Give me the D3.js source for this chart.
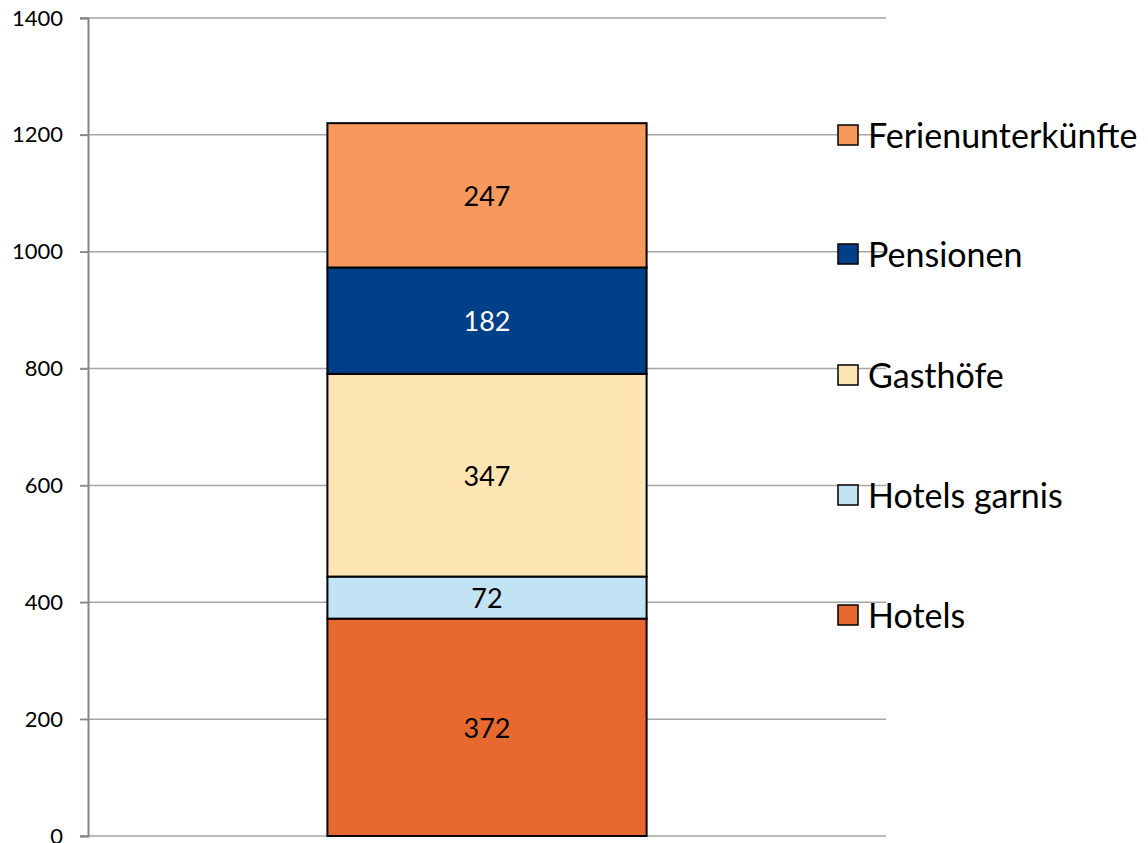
<!DOCTYPE html>
<html>
<head>
<meta charset="utf-8">
<script src="https://cdn.jsdelivr.net/npm/d3@7"></script>
<style>
  body { margin: 0; background: #fff; }
  text { font-family: Lato, "Open Sans", sans-serif; }
</style>
</head>
<body>
<div id="container"></div>
<script>
// data, bottom to top
let categories = ["Hotels", "Hotels garnis", "Gasthöfe", "Pensionen", "Ferienunterkünfte"];
let values = [372, 72, 347, 182, 247];
let colors = ["#E8692F", "#C2E3F4", "#FDE6B4", "#004088", "#F7985C"];
let labelColors = ["#000", "#000", "#000", "#fff", "#000"];
let yTicks = [0, 200, 400, 600, 800, 1000, 1200, 1400];

let width = 1148, height = 843;

let svg = d3.select("#container")
  .append("svg")
    .attr("width", width)
    .attr("height", height)
;

let x = d3.scaleBand().domain(["all"]).range([88, 886]).paddingInner(0).paddingOuter(0.75);
let y = d3.scaleLinear().domain([0, 1400]).range([836, 18]);

// gridlines
svg.append("g")
  .selectAll("line")
  .data(yTicks)
  .enter()
  .append("line")
    .attr("x1", 80)
    .attr("x2", 886)
    .attr("y1", d => y(d))
    .attr("y2", d => y(d))
    .attr("stroke", "#A6A6A6")
    .attr("stroke-width", 1.5)
;

// y axis
let yAxis = svg.append("g")
  .attr("transform", "translate(88,0)")
  .call(d3.axisLeft(y).tickValues(yTicks).tickFormat(d3.format("d")).tickSize(8).tickPadding(17));
yAxis.select(".domain").attr("stroke", "#868686").attr("stroke-width", 2);
yAxis.selectAll(".tick line").attr("stroke", "#868686").attr("stroke-width", 1.5);
yAxis.selectAll(".tick text")
  .attr("fill", "#000")
  .style("font-family", "Lato, 'Open Sans', sans-serif")
  .style("font-size", "22px");

// stacked segments
let stacked = [];
let running = 0;
values.forEach((v, i) => {
  stacked.push({ name: categories[i], value: v, y0: running, y1: running + v, color: colors[i], tc: labelColors[i] });
  running += v;
});

let segs = svg.selectAll(".seg").data(stacked).enter()
  .append("g")
    .attr("class", "seg")
;

segs.append("rect")
  .attr("x", x("all"))
  .attr("width", x.bandwidth())
  .attr("y", d => y(d.y1))
  .attr("height", d => y(d.y0) - y(d.y1))
  .attr("fill", d => d.color)
  .attr("stroke", "#000")
  .attr("stroke-width", 2)
;

segs.append("text")
  .attr("x", x("all") + x.bandwidth() / 2)
  .attr("y", d => (y(d.y0) + y(d.y1)) / 2)
  .attr("text-anchor", "middle")
  .attr("dominant-baseline", "central")
  .attr("fill", d => d.tc)
  .style("font-size", "27px")
  .text(d => d.value)
;

// legend, top entry first
let legendY = [135, 254, 375, 495, 615];
let legendData = stacked.slice().reverse();
let legend = svg.selectAll(".legend").data(legendData).enter()
  .append("g")
    .attr("class", "legend")
    .attr("transform", (d, i) => "translate(838," + legendY[i] + ")")
;

legend.append("rect")
  .attr("x", 0)
  .attr("y", -10)
  .attr("width", 20)
  .attr("height", 20)
  .attr("fill", d => d.color)
  .attr("stroke", "#000")
  .attr("stroke-width", 1.5)
;

legend.append("text")
  .attr("x", 30)
  .attr("y", -1)
  .attr("dominant-baseline", "central")
  .attr("fill", "#000")
  .style("font-size", "34px")
  .text(d => d.name)
;
</script>
</body>
</html>
